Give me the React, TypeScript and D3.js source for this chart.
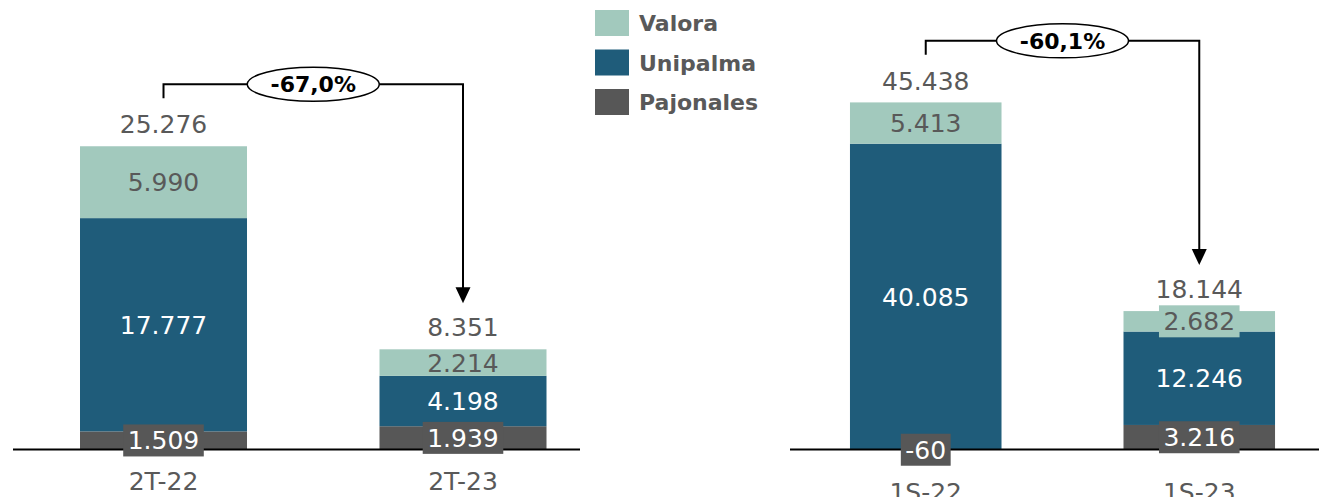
import React, { useEffect, useRef } from "react";
import * as d3 from "d3";

// ---- Data ----
const seriesNames = ["Pajonales", "Unipalma", "Valora"];
const legendOrder = ["Valora", "Unipalma", "Pajonales"];

const categoriesLeft = ["2T-22", "2T-23"];
const pajonalesLeft = [1509, 1939];
const unipalmaLeft = [17777, 4198];
const valoraLeft = [5990, 2214];

const categoriesRight = ["1S-22", "1S-23"];
const pajonalesRight = [-60, 3216];
const unipalmaRight = [40085, 12246];
const valoraRight = [5413, 2682];

const colors: Record<string, string> = {
  Valora: "#A2C9BD",
  Unipalma: "#1F5C7A",
  Pajonales: "#575757",
};
const labelColors: Record<string, string> = {
  Valora: "#595959",
  Unipalma: "#FFFFFF",
  Pajonales: "#FFFFFF",
};

const locale = d3.formatLocale({
  decimal: ",",
  thousands: ".",
  grouping: [3],
  currency: ["", ""],
  minus: "-",
});
const fmtInt = locale.format(",d");
const fmtPct = locale.format(".1%");

const FONT = "'DejaVu Sans', sans-serif";
const TEXT_GRAY = "#595959";

type Panel = {
  cats: string[];
  paj: number[];
  uni: number[];
  val: number[];
  xRange: [number, number];
  padInner: number;
  padOuter: number;
  align: number;
  axisRange: [number, number];
  yMax: number;
  catBaseline: number;
};

const panels: Panel[] = [
  {
    cats: categoriesLeft, paj: pajonalesLeft, uni: unipalmaLeft, val: valoraLeft,
    xRange: [13.5, 562], padInner: 0.4424, padOuter: 0.1369, align: 0.811,
    axisRange: [13, 580], yMax: 35800, catBaseline: 490,
  },
  {
    cats: categoriesRight, paj: pajonalesRight, uni: unipalmaRight, val: valoraRight,
    xRange: [790, 1319], padInner: 0.446, padOuter: 0.19, align: 0.577,
    axisRange: [790, 1319], yMax: 56300, catBaseline: 501,
  },
];

const BASE_Y = 449.5;
const TOP_Y = 20;

export default function App() {
  const ref = useRef<SVGSVGElement | null>(null);

  useEffect(() => {
    document.body.style.margin = "0";
    const svg = d3.select(ref.current);
    svg.selectAll("*").remove();

    panels.forEach((p) => {
      const rows = p.cats.map((c, i) => ({
        cat: c,
        Pajonales: p.paj[i],
        Unipalma: p.uni[i],
        Valora: p.val[i],
      }));
      const totals = rows.map((r) => r.Pajonales + r.Unipalma + r.Valora);

      const x = d3.scaleBand<string>()
        .domain(p.cats)
        .range(p.xRange)
        .paddingInner(p.padInner)
        .paddingOuter(p.padOuter)
        .align(p.align);
      const y = d3.scaleLinear().domain([0, p.yMax]).range([BASE_Y, TOP_Y]);

      const stack = d3.stack<any>().keys(seriesNames).offset(d3.stackOffsetDiverging);
      const stacked = stack(rows);

      const g = svg.append("g");

      // bars
      stacked.forEach((s) => {
        g.selectAll(null)
          .data(s)
          .enter()
          .append("rect")
          .attr("x", (d: any) => x(d.data.cat)!)
          .attr("width", x.bandwidth())
          .attr("y", (d: any) => y(Math.max(d[0], d[1])))
          .attr("height", (d: any) => Math.abs(y(d[0]) - y(d[1])))
          .attr("fill", colors[s.key]);
      });

      // axis line
      g.append("line")
        .attr("x1", p.axisRange[0])
        .attr("x2", p.axisRange[1])
        .attr("y1", y(0))
        .attr("y2", y(0))
        .attr("stroke", "#000")
        .attr("stroke-width", 2);

      // segment labels
      stacked.forEach((s) => {
        s.forEach((d: any) => {
          const v = d.data[s.key];
          const cx = x(d.data.cat)! + x.bandwidth() / 2;
          const cy = (y(d[0]) + y(d[1])) / 2;
          const segH = Math.abs(y(d[0]) - y(d[1]));
          const lg = g.append("g");
          const t = lg.append("text")
            .attr("x", cx)
            .attr("y", cy + 9)
            .attr("text-anchor", "middle")
            .attr("font-family", FONT)
            .attr("font-size", 25)
            .attr("fill", labelColors[s.key])
            .text(fmtInt(v));
          if (segH < 25) {
            const w = (t.node() as SVGTextElement).getComputedTextLength() + 9;
            lg.insert("rect", "text")
              .attr("x", cx - w / 2)
              .attr("y", cy - 16)
              .attr("width", w)
              .attr("height", 32)
              .attr("fill", colors[s.key]);
          }
        });
      });

      // totals
      rows.forEach((r, i) => {
        g.append("text")
          .attr("x", x(r.cat)! + x.bandwidth() / 2)
          .attr("y", y(totals[i]) - 13)
          .attr("text-anchor", "middle")
          .attr("font-family", FONT)
          .attr("font-size", 25)
          .attr("fill", TEXT_GRAY)
          .text(fmtInt(totals[i]));
      });

      // category labels
      rows.forEach((r) => {
        g.append("text")
          .attr("x", x(r.cat)! + x.bandwidth() / 2)
          .attr("y", p.catBaseline)
          .attr("text-anchor", "middle")
          .attr("font-family", FONT)
          .attr("font-size", 25)
          .attr("fill", TEXT_GRAY)
          .text(r.cat);
      });

      // change bracket
      const x0 = x(rows[0].cat)! + x.bandwidth() / 2;
      const x1 = x(rows[1].cat)! + x.bandwidth() / 2;
      const topBar = y(totals[0]);
      const vBottom = topBar - 48;
      const hY = topBar - 62;
      const tip = y(totals[1]) - 46;
      g.append("path")
        .attr("d", `M${x0},${vBottom} V${hY} H${x1} V${tip - 14}`)
        .attr("fill", "none")
        .attr("stroke", "#000")
        .attr("stroke-width", 2);
      g.append("path")
        .attr("d", `M${x1 - 7.5},${tip - 16} L${x1 + 7.5},${tip - 16} L${x1},${tip} Z`)
        .attr("fill", "#000");
      const mx = (x0 + x1) / 2;
      g.append("ellipse")
        .attr("cx", mx)
        .attr("cy", hY)
        .attr("rx", 66)
        .attr("ry", 17)
        .attr("fill", "#fff")
        .attr("stroke", "#000")
        .attr("stroke-width", 1.5);
      g.append("text")
        .attr("x", mx)
        .attr("y", hY + 8)
        .attr("text-anchor", "middle")
        .attr("font-family", FONT)
        .attr("font-weight", "bold")
        .attr("font-size", 22)
        .attr("fill", "#000")
        .text(fmtPct(totals[1] / totals[0] - 1));
    });

    // legend
    const lg = svg.append("g");
    legendOrder.forEach((name, i) => {
      const yy = 10 + i * 39.5;
      lg.append("rect")
        .attr("x", 595)
        .attr("y", yy)
        .attr("width", 34)
        .attr("height", 26)
        .attr("fill", colors[name]);
      lg.append("text")
        .attr("x", 639)
        .attr("y", yy + 21)
        .attr("font-family", FONT)
        .attr("font-weight", "bold")
        .attr("font-size", 22)
        .attr("fill", TEXT_GRAY)
        .text(name);
    });
  }, []);

  return (
    <svg
      ref={ref}
      width={1319}
      height={497}
      style={{ position: "absolute", left: 0, top: 0, background: "#fff" }}
    />
  );
}
